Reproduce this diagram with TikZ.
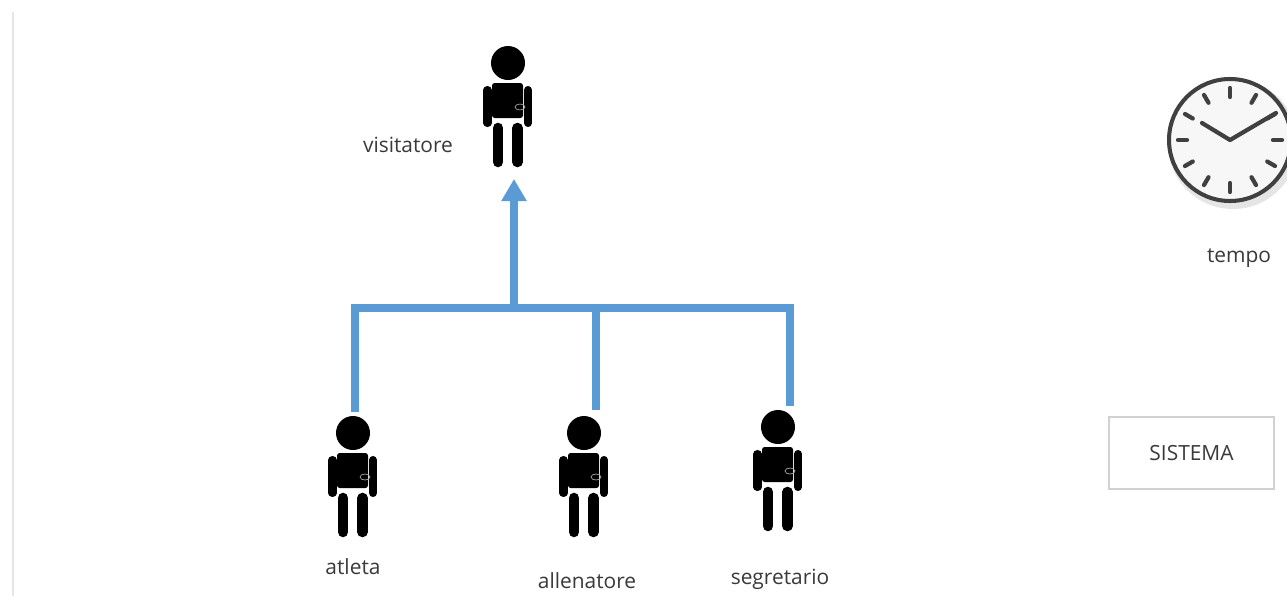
\documentclass[tikz,border=0pt]{standalone}
\usepackage{fontspec}
\setmainfont{Open Sans}
\usetikzlibrary{arrows.meta,positioning,calc}
\definecolor{blu}{HTML}{5B9BD5}
\definecolor{testo}{HTML}{3A3A3A}
\tikzset{
  etichetta/.style={text=testo,font=\fontsize{11.9}{14}\selectfont,inner sep=0pt},
  ramo/.style={draw=blu,line width=4.2pt},
  tacca/.style={draw=black!75,line width=2.4pt,line cap=round},
  lancetta/.style={draw=black!75,line width=2.4pt,line cap=round,line join=round},
  omino/.pic={
    \fill[black] (0,0) circle[radius=17];
    \fill[black,rounded corners=1.5pt] (-16,20) rectangle (15,55);
    \draw[black,line width=4.6pt,line cap=round] (-20.5,27) -- (-20.5,60);
    \draw[black,line width=4.6pt,line cap=round] (20,27) -- (20,60);
    \draw[black,line width=6pt,line cap=round] (-10,65) -- (-10,99);
    \draw[black,line width=6pt,line cap=round] (9.5,65) -- (9.5,99);
    \draw[black!35,line width=.4pt] (12,44) ellipse[x radius=5,y radius=3];
  }
}
\begin{document}
\begin{tikzpicture}[x=.02cm,y=-.02cm]
      \useasboundingbox (0,0) rectangle (1287,596);
      \fill[white] (0,0) rectangle (1287,596);
      \draw[black!10,line width=1pt] (13,12) -- (13,596);

      % persone
      \coordinate(visitatore) at (508,63);
      \coordinate(atleta) at (353,433);
      \coordinate(allenatore) at (584,433);
      \coordinate(segretario) at (778,427);
      \foreach \p in {visitatore,atleta,allenatore,segretario}
        \pic at (\p) {omino};

      \node[etichetta] at ($(visitatore)+(-100,82)$)(lvisitatore){visitatore};
      \node[etichetta] at ($(atleta)+(0,134)$)(latleta){atleta};
      \node[etichetta] at ($(allenatore)+(3,148)$)(lallenatore){allenatore};
      \node[etichetta] at ($(segretario)+(2,152)$)(lsegretario){segretario};

      % generalizzazione
      \coordinate(punta) at ($(visitatore)+(6,116)$);
      \coordinate(base) at (514,308);
      \coordinate(ga) at ($(atleta)+(2,-21)$);
      \coordinate(gb) at ($(allenatore)+(12,-23)$);
      \coordinate(gc) at ($(segretario)+(12,-21)$);
      \coordinate(ba) at (ga |- base);
      \coordinate(bb) at (gb |- base);
      \coordinate(bc) at (gc |- base);
      \draw[ramo] (ga) -- (ba) -- (bc) -- (gc);
      \draw[ramo] (gb) -- (bb);
      \draw[ramo,-{Triangle[length=.44cm,width=.48cm]}] (base) -- (punta);

      % orologio
      \coordinate(orologio) at (1230,140);
      \fill[black!20] ($(orologio)+(3,6)$) circle[radius=62];
      \fill[black!10] ($(orologio)+(3,4)$) circle[radius=65];
      \draw[black!75,fill=black!3,line width=2.3pt] (orologio) circle[radius=61];
      \foreach \a in {0,30,...,330}
        \draw[tacca] ($(orologio)+(\a:43)$) -- ($(orologio)+(\a:52)$);
      \draw[lancetta] (1202,123) -- (orologio) -- (1276,113);
      \node[etichetta] at ($(orologio)+(9,118)$)(ltempo){tempo};

      % sistema
      \node[draw=black!18,line width=.9pt,minimum width=3.3cm,minimum height=1.44cm,
        etichetta] at (1191.5,453)(sistema){SISTEMA};
    \end{tikzpicture}
\end{document}
